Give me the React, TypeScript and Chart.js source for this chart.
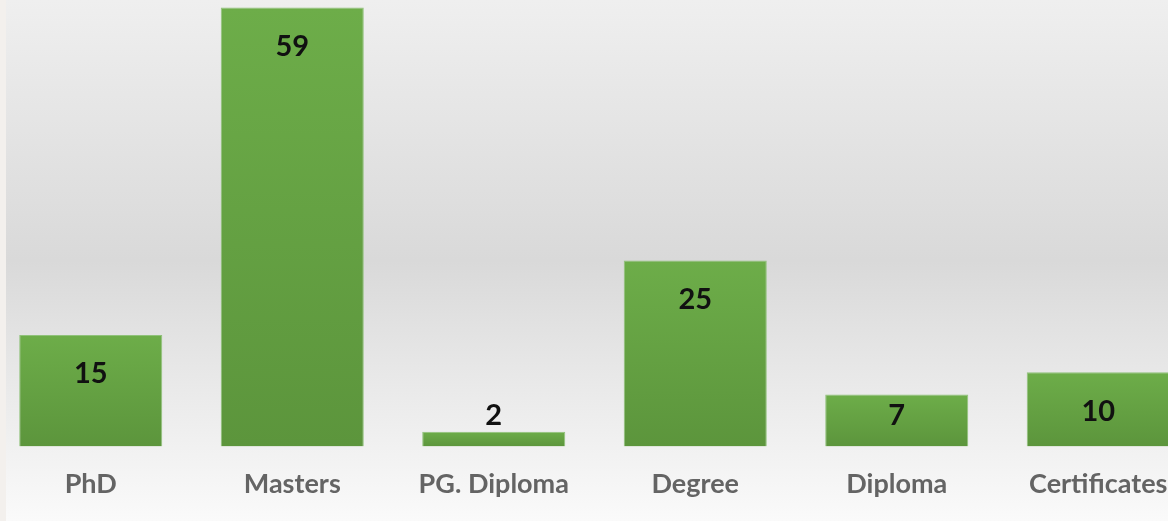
import React, { useEffect, useRef } from "react";
import { Chart, registerables } from "chart.js";

Chart.register(...registerables);

const categories: string[] = ["PhD", "Masters", "PG. Diploma", "Degree", "Diploma", "Certificates"];
const counts: number[] = [15, 59, 2, 25, 7, 10];
const yMax = 60;

const valueLabels = {
  id: "valueLabels",
  afterDatasetsDraw(chart: any) {
    const ctx = chart.ctx;
    const meta = chart.getDatasetMeta(0);
    ctx.save();
    ctx.font = "bold 29px Lato";
    ctx.fillStyle = "#111111";
    ctx.textAlign = "center";
    ctx.textBaseline = "middle";
    meta.data.forEach((el: any, i: number) => {
      const h = el.base - el.y;
      let cy: number;
      if (h >= 40) cy = el.y + Math.min(39, h - 31);
      else cy = el.y - 16;
      ctx.fillText(String(counts[i]), el.x, cy);
    });
    ctx.restore();
  },
};

export default function App() {
  const ref = useRef<HTMLCanvasElement>(null);
  useEffect(() => {
    if (!ref.current) return;
    const chart = new Chart(ref.current, {
      type: "bar",
      data: {
        labels: categories,
        datasets: [
          {
            data: counts,
            backgroundColor: (c: any) => {
              const ch = c.chart;
              const ys = ch.scales?.y;
              if (!ys || c.dataIndex === undefined) return "#66a343";
              const top = ys.getPixelForValue(counts[c.dataIndex]);
              const bot = ys.getPixelForValue(0);
              if (!isFinite(top) || !isFinite(bot) || top === bot) return "#66a343";
              const g = ch.ctx.createLinearGradient(0, top, 0, bot);
              g.addColorStop(0, "#6dad49");
              g.addColorStop(1, "#5c953c");
              return g;
            },
            borderColor: "#90c27a",
            borderWidth: 1,
            barPercentage: 1,
            categoryPercentage: 0.71,
          },
        ],
      },
      options: {
        responsive: false,
        animation: false,
        layout: { padding: { left: 0, right: 0, top: 0, bottom: 0 } },
        plugins: { legend: { display: false }, tooltip: { enabled: false } },
        scales: {
          y: { display: false, min: 0, max: yMax },
          x: {
            grid: { display: false, drawTicks: false },
            border: { display: false },
            ticks: {
              padding: 21,
              color: "#646464",
              font: { family: "Lato", size: 27, weight: "bold" },
            },
          },
        },
      },
      plugins: [valueLabels],
    });
    return () => chart.destroy();
  }, []);

  return (
    <div style={{ position: "fixed", left: 0, top: 0, width: 1168, height: 521, overflow: "hidden", background: "#f3f0ed" }}>
      <div
        style={{
          position: "absolute",
          left: 6,
          top: 0,
          width: 1162,
          height: 521,
          background: "linear-gradient(to bottom, #efefef 0%, #e4e4e4 25%, #d9d9d9 50%, #eaeaea 75%, #fafafa 100%)",
        }}
      />
      <canvas ref={ref} width={1209} height={521} style={{ position: "absolute", left: -10, top: 0, width: 1209, height: 521 }} />
    </div>
  );
}
